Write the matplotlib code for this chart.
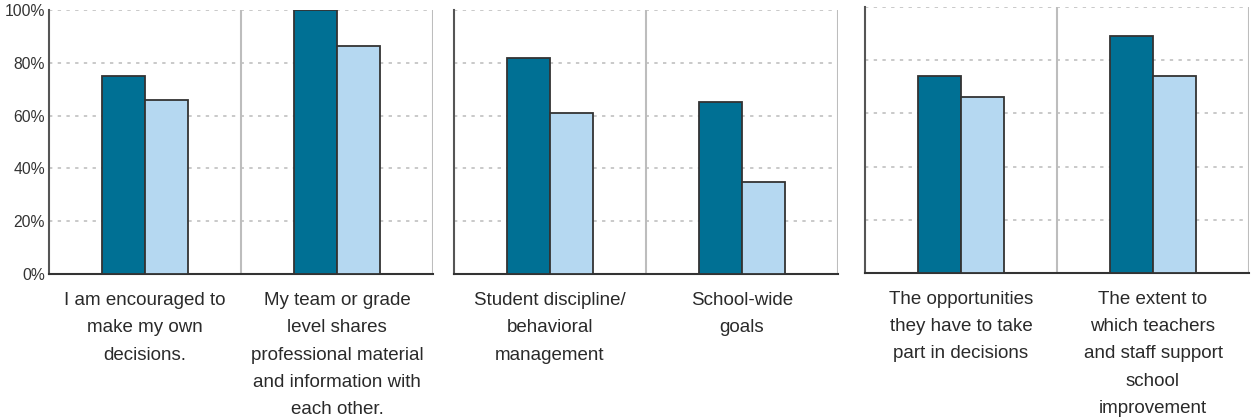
import numpy as np
import matplotlib.pyplot as plt
from matplotlib.ticker import PercentFormatter

plt.rcParams['font.family'] = ['Liberation Sans', 'DejaVu Sans']

# Data, one panel per group of two questions
labels_1 = ['I am encouraged to\nmake my own\ndecisions.',
            'My team or grade\nlevel shares\nprofessional material\nand information with\neach other.']
dark_1 = [75, 100]
light_1 = [66, 86.5]

labels_2 = ['Student discipline/\nbehavioral\nmanagement', 'School-wide\ngoals']
dark_2 = [82, 65]
light_2 = [61, 35]

labels_3 = ['The opportunities\nthey have to take\npart in decisions',
            'The extent to\nwhich teachers\nand staff support\nschool\nimprovement']
dark_3 = [74, 89]
light_3 = [66.3, 74]

yticks = [0, 20, 40, 60, 80, 100]

dark_color = '#007094'
light_color = '#b5d8f1'
edge_color = '#333333'
sep_color = '#bdbdbd'

fig = plt.figure(figsize=(12.56, 4.19), dpi=100)

# axes rectangles in figure fractions
rects = [
    [49 / 1256, (419 - 274) / 419, 384 / 1256, 264 / 419],
    [454 / 1256, (419 - 274) / 419, 384 / 1256, 264 / 419],
    [865 / 1256, (419 - 272.7) / 419, 384 / 1256, 265.4 / 419],
]
panels = [(labels_1, dark_1, light_1), (labels_2, dark_2, light_2), (labels_3, dark_3, light_3)]

w = 0.224
for i, (rect, (labels, dark, light)) in enumerate(zip(rects, panels)):
    ax = fig.add_axes(rect)
    x = np.arange(len(labels)) + 0.5
    ax.bar(x - w / 2, dark, w, color=dark_color, edgecolor=edge_color, linewidth=1.3, zorder=3)
    ax.bar(x + w / 2, light, w, color=light_color, edgecolor=edge_color, linewidth=1.3, zorder=3)

    ax.set_xlim(0, len(labels))
    ax.set_ylim(0, 100)
    ax.set_yticks(yticks)
    ax.yaxis.grid(True, color='#bbbbbb', linestyle=(0, (2.2, 3.5)), linewidth=1.1, zorder=0)
    ax.set_axisbelow(True)

    # category separators
    for xs in range(1, len(labels) + 1):
        ax.axvline(xs, color=sep_color, linewidth=1.5, zorder=1)

    ax.set_xticks(x)
    ax.set_xticklabels(labels, fontsize=13.5, color='#2a2a2a', linespacing=1.79)
    ax.tick_params(axis='x', length=0, pad=13)
    ax.tick_params(axis='y', length=0, pad=3, labelsize=11.3, labelcolor='#333333')
    ax.yaxis.set_major_formatter(PercentFormatter(decimals=0))
    if i > 0:
        ax.set_yticklabels([])

    ax.spines['top'].set_visible(False)
    ax.spines['right'].set_visible(False)
    ax.spines['left'].set_color('#555555')
    ax.spines['left'].set_linewidth(1.5)
    ax.spines['bottom'].set_color('#333333')
    ax.spines['bottom'].set_linewidth(1.5)

fig.savefig('out.png', dpi=100)
